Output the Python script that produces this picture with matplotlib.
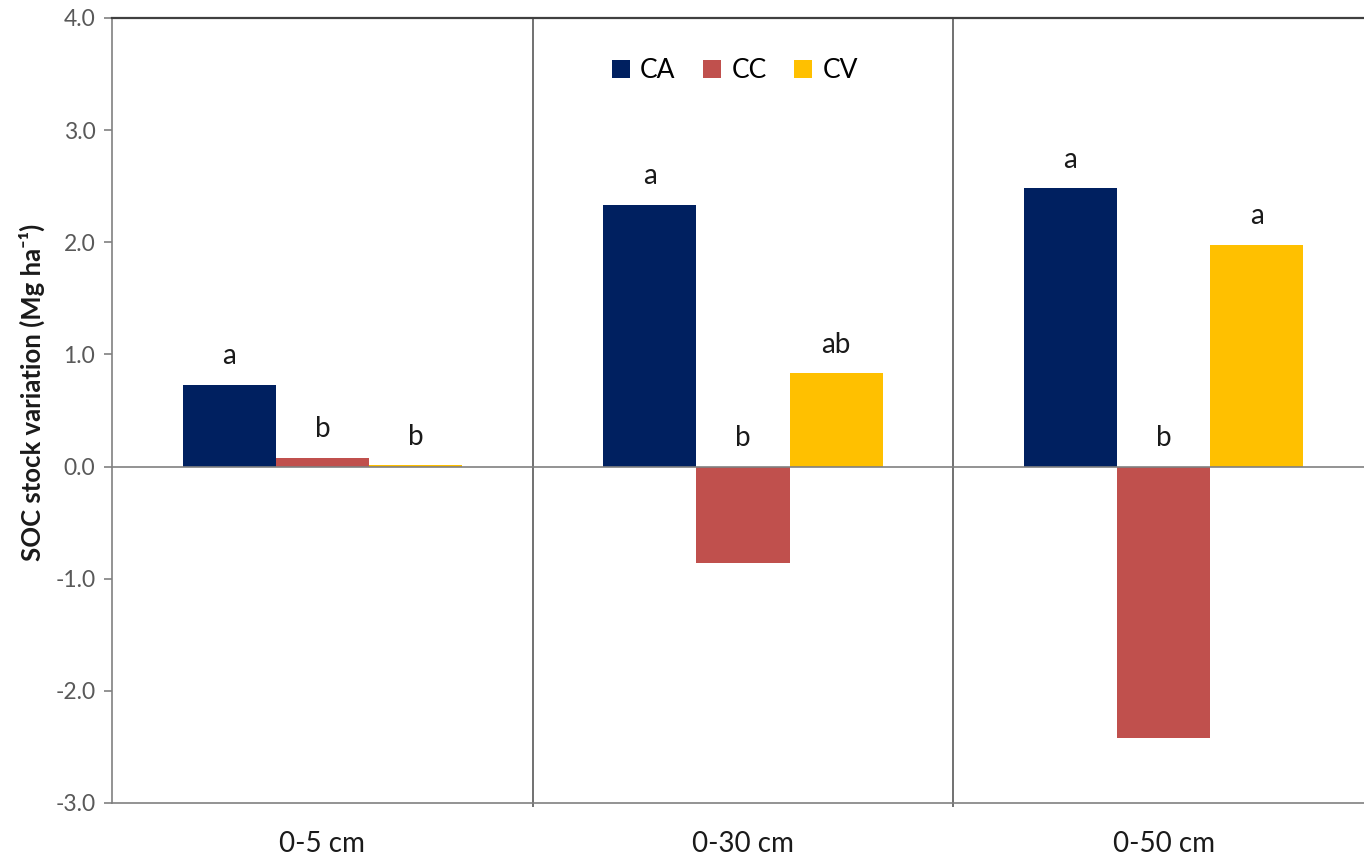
import matplotlib
matplotlib.use("Agg")
import matplotlib.pyplot as plt
import numpy as np

plt.rcParams['font.family'] = ['Lato', 'DejaVu Sans']

depths = ["0-5 cm", "0-30 cm", "0-50 cm"]
series = ["CA", "CC", "CV"]
ca_values = [0.73, 2.33, 2.48]
cc_values = [0.08, -0.86, -2.42]
cv_values = [0.01, 0.83, 1.98]
ca_letters = ["a", "a", "a"]
cc_letters = ["b", "b", "b"]
cv_letters = ["b", "ab", "a"]
colors = ["#002060", "#C0504D", "#FFC000"]
yticks = [-3.0, -2.0, -1.0, 0.0, 1.0, 2.0, 3.0, 4.0]

fig = plt.figure(figsize=(13.64, 8.61), dpi=100)
ax = fig.add_axes([0.0821, 0.0674, 1.0073 - 0.0821, 0.9791 - 0.0674])

x = np.arange(len(depths))
width = 0.2214
all_values = [ca_values, cc_values, cv_values]
all_letters = [ca_letters, cc_letters, cv_letters]
for i, (name, vals, letters, c) in enumerate(zip(series, all_values, all_letters, colors)):
    pos = x + (i - 1) * width
    ax.bar(pos, vals, width=width, color=c, label=name, zorder=2)
    for px, v, lt in zip(pos, vals, letters):
        ax.annotate(lt, xy=(px, max(v, 0)), xytext=(0, 15), textcoords="offset points",
                    ha="center", va="baseline", fontsize=20, color="#1a1a1a")

ax.set_xlim(-0.5, 2.5)
ax.set_ylim(-3.0, 4.0)
ax.set_yticks(yticks)
ax.set_yticklabels([f"{t:.1f}" for t in yticks], fontsize=16.5, color="#595959")
ax.tick_params(axis="y", direction="out", length=6, width=1.2, color="#808080", pad=6)

ax.set_xticks(x)
ax.set_xticklabels(depths, fontsize=20, color="#1a1a1a")
ax.tick_params(axis="x", which="major", length=0, pad=20)
ax.set_xticks([0.5, 1.5], minor=True)
ax.tick_params(axis="x", which="minor", direction="out", length=3, width=1.2, color="#595959")

# group separators and zero line
for b in [0.5, 1.5]:
    ax.axvline(b, color="#595959", lw=1.2, zorder=1)
ax.axhline(0, color="#808080", lw=1.2, zorder=3)

for s in ["left", "bottom", "right"]:
    ax.spines[s].set_color("#808080")
    ax.spines[s].set_linewidth(1.2)
ax.spines["top"].set_color("#404040")
ax.spines["top"].set_linewidth(1.6)

ax.set_ylabel("SOC stock variation (Mg ha⁻¹)", fontsize=18.5, fontweight="bold",
              color="#1a1a1a", va="center")
ax.yaxis.set_label_coords(-0.0631, 0.5236)

ax.legend(loc="center", bbox_to_anchor=(735 / 1364, 1 - 71 / 861),
          bbox_transform=fig.transFigure, ncol=3, frameon=False,
          fontsize=19, handlelength=0.68, handleheight=0.68,
          handletextpad=0.38, columnspacing=1.05)

fig.savefig("out.png", dpi=100)
